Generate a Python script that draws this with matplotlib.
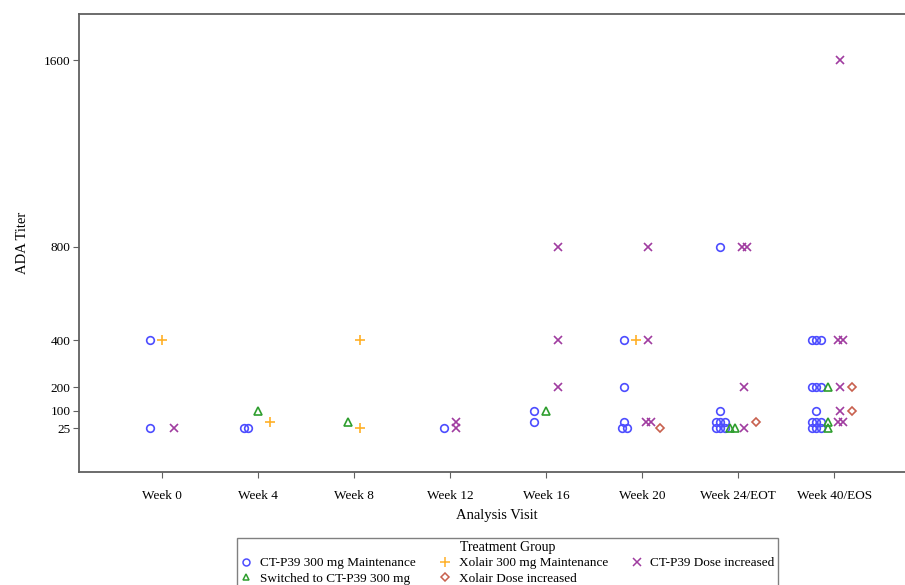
import numpy as np
import matplotlib
matplotlib.use("Agg")
import matplotlib.pyplot as plt
from matplotlib.lines import Line2D

plt.rcParams["font.family"] = ["Liberation Serif", "DejaVu Serif"]

### Data ###
visits = ["Week 0", "Week 4", "Week 8", "Week 12", "Week 16", "Week 20",
          "Week 24/EOT", "Week 40/EOS"]
y_ticks = [25, 100, 200, 400, 800, 1600]

group_names = ["CT-P39 300 mg Maintenance", "Switched to CT-P39 300 mg",
               "Xolair 300 mg Maintenance", "CT-P39 Dose increased",
               "Xolair Dose increased"]

# (visit index, titer, number of subjects)
ct_maint_pts = [(0, 400, 1), (0, 25, 1), (1, 25, 2), (3, 25, 1),
                (4, 100, 1), (4, 50, 1),
                (5, 400, 1), (5, 200, 1), (5, 50, 1), (5, 25, 2),
                (6, 800, 1), (6, 100, 1), (6, 50, 3), (6, 25, 3),
                (7, 400, 3), (7, 200, 3), (7, 100, 1), (7, 50, 3), (7, 25, 3)]
switched_pts = [(1, 100, 1), (2, 50, 1), (4, 100, 1), (6, 25, 2),
                (7, 200, 1), (7, 50, 1), (7, 25, 1)]
xolair_maint_pts = [(0, 400, 1), (1, 50, 1), (2, 400, 1), (2, 25, 1),
                    (5, 400, 1)]
ct_dose_pts = [(0, 25, 1), (3, 50, 1), (3, 25, 1),
               (4, 800, 1), (4, 400, 1), (4, 200, 1),
               (5, 800, 1), (5, 400, 1), (5, 50, 2),
               (6, 800, 2), (6, 200, 1), (6, 25, 1),
               (7, 1600, 1), (7, 400, 2), (7, 200, 1), (7, 100, 1), (7, 50, 2)]
xolair_dose_pts = [(5, 25, 1), (6, 50, 1), (7, 200, 1), (7, 100, 1)]

all_pts = [ct_maint_pts, switched_pts, xolair_maint_pts, ct_dose_pts,
           xolair_dose_pts]

### Styles ###
markers = ["o", "^", "+", "x", "D"]
colors = ["#4D4DFF", "#2E9E2E", "#FFB028", "#A03CA0", "#C8604E"]
sizes = [5.5, 5.5, 7, 6, 4.5]
cluster_w = 0.125   # spacing between groups within a visit
jitter_w = 0.047    # spacing between overlapping points

fig = plt.figure(figsize=(9.05, 5.85), dpi=100)
ax = fig.add_axes([79 / 905, 113 / 585, 836 / 905, 458 / 585])

# groups present at each visit -> cluster positions
for gi, pts in enumerate(all_pts):
    xs, ys = [], []
    for v, titer, n in pts:
        present = [k for k, p in enumerate(all_pts) if any(q[0] == v for q in p)]
        pos = present.index(gi) - (len(present) - 1) / 2
        for j in range(n):
            xs.append(v + pos * cluster_w + (j - (n - 1) / 2) * jitter_w)
            ys.append(titer)
    filled = markers[gi] in ("+", "x")
    ax.plot(xs, ys, linestyle="none", marker=markers[gi],
            markersize=sizes[gi], markeredgewidth=1.2,
            markerfacecolor=colors[gi] if filled else "none",
            markeredgecolor=colors[gi], clip_on=False)

ax.set_xlim(-0.865, 7.84)
ax.set_ylim(-163, 1797)
ax.set_xticks(range(len(visits)))
ax.set_xticklabels(visits, fontsize=9.5)
ax.set_yticks(y_ticks)
ax.set_yticklabels([str(t) for t in y_ticks], fontsize=9.5)
ax.tick_params(length=4, width=0.8, color="#606060")
ax.tick_params(axis="x", pad=9)
ax.tick_params(axis="y", pad=2)
for s in ax.spines.values():
    s.set_color("#606060")
    s.set_linewidth(1.3)

ax.set_xlabel("Analysis Visit", fontsize=10.5, labelpad=5)
ax.set_ylabel("ADA Titer", fontsize=10.5, labelpad=11)

handles = [Line2D([], [], linestyle="none", marker=markers[i],
                  markersize=sizes[i] - 0.5, markeredgewidth=1.1,
                  markerfacecolor="none" if markers[i] not in ("+", "x") else colors[i],
                  markeredgecolor=colors[i], label=group_names[i])
           for i in range(5)]
order = [0, 1, 2, 4, 3]
leg = fig.legend([handles[i] for i in order], [group_names[i] for i in order],
                 title="Treatment Group", ncol=3, loc="upper left",
                 bbox_to_anchor=(237 / 905, 1 - 538 / 585 - 0.01, 541 / 905, 0.01),
                 mode="expand", borderaxespad=0, fontsize=9.5,
                 title_fontsize=10, frameon=True, fancybox=False,
                 edgecolor="#606060", handlelength=0.9, handletextpad=0.6,
                 columnspacing=1.0, labelspacing=0.22, borderpad=0.25)
leg.get_frame().set_linewidth(1.0)

fig.savefig("out.png", dpi=100)
